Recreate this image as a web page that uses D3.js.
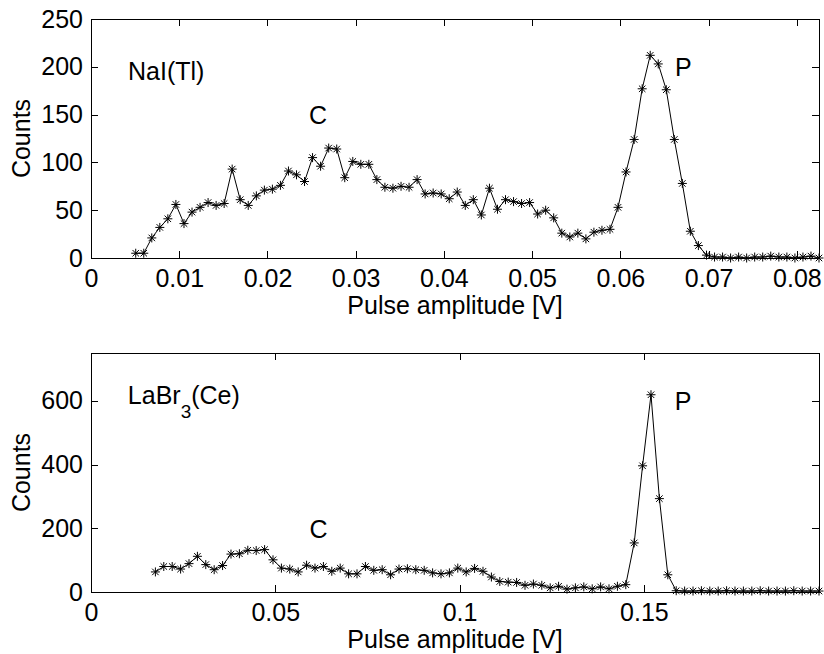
<!DOCTYPE html>
<html>
<head>
<meta charset="utf-8">
<script src="https://cdn.jsdelivr.net/npm/d3@7"></script>
<style>
body { margin: 0; background: #fff; }
svg text { font-family: "Liberation Sans", Arial, Helvetica, sans-serif; }
</style>
</head>
<body>
<div id="chart"></div>
<script>
// NaI(Tl) spectrum (top panel)
var naiAmp = [0.00507, 0.00598, 0.00689, 0.00780, 0.00871, 0.00962, 0.01054, 0.01145, 0.01236, 0.01327,
  0.01418, 0.01509, 0.01600, 0.01691, 0.01782, 0.01874, 0.01965, 0.02056, 0.02147, 0.02238,
  0.02329, 0.02420, 0.02511, 0.02602, 0.02694, 0.02785, 0.02876, 0.02967, 0.03058, 0.03149,
  0.03240, 0.03331, 0.03422, 0.03514, 0.03605, 0.03696, 0.03787, 0.03878, 0.03969, 0.04060,
  0.04151, 0.04242, 0.04333, 0.04424, 0.04516, 0.04607, 0.04698, 0.04789, 0.04880, 0.04971,
  0.05062, 0.05153, 0.05244, 0.05336, 0.05427, 0.05518, 0.05609, 0.05700, 0.05791, 0.05882,
  0.05973, 0.06064, 0.06156, 0.06247, 0.06338, 0.06429, 0.06520, 0.06611, 0.06702, 0.06793,
  0.06884, 0.06976, 0.07067, 0.07158, 0.07249, 0.07340, 0.07431, 0.07522, 0.07613, 0.07704,
  0.07796, 0.07887, 0.07978, 0.08069, 0.08160, 0.08251];
var naiCounts = [5, 5, 21, 32, 41, 56, 36, 48, 53, 58,
  55, 57, 93, 61, 55, 65, 71, 72, 76, 91,
  87, 80, 105, 96, 115, 114, 84, 101, 98, 98,
  82, 74, 73, 75, 74, 82, 67, 68, 67, 62,
  69, 55, 61, 45, 73, 51, 61, 59, 57, 58,
  46, 50, 42, 26, 22, 26, 20, 27, 29, 30,
  53, 90, 124, 177, 212, 203, 176, 124, 78, 28,
  13, 3, 1, 1, 0, 1, 0, 1, 1, 2,
  1, 1, 0, 1, 2, 0];
var naiXTicks = [0, 0.01, 0.02, 0.03, 0.04, 0.05, 0.06, 0.07, 0.08];
var naiXTickLabels = ["0", "0.01", "0.02", "0.03", "0.04", "0.05", "0.06", "0.07", "0.08"];
var naiYTicks = [0, 50, 100, 150, 200, 250];
var naiYTickLabels = ["0", "50", "100", "150", "200", "250"];

// LaBr3(Ce) spectrum (bottom panel)
var labrAmp = [0.01747, 0.01975, 0.02203, 0.02431, 0.02659, 0.02887, 0.03114, 0.03342, 0.03570, 0.03798,
  0.04026, 0.04254, 0.04482, 0.04710, 0.04938, 0.05166, 0.05393, 0.05621, 0.05849, 0.06077,
  0.06305, 0.06533, 0.06761, 0.06989, 0.07217, 0.07445, 0.07672, 0.07900, 0.08128, 0.08356,
  0.08584, 0.08812, 0.09040, 0.09268, 0.09496, 0.09724, 0.09951, 0.10179, 0.10407, 0.10635,
  0.10863, 0.11091, 0.11319, 0.11547, 0.11775, 0.12003, 0.12230, 0.12458, 0.12686, 0.12914,
  0.13142, 0.13370, 0.13598, 0.13826, 0.14054, 0.14282, 0.14509, 0.14737, 0.14965, 0.15193,
  0.15421, 0.15649, 0.15877, 0.16105, 0.16333, 0.16561, 0.16788, 0.17016, 0.17244, 0.17472,
  0.17700, 0.17928, 0.18156, 0.18384, 0.18612, 0.18840, 0.19067, 0.19295, 0.19523, 0.19751];
var labrCounts = [63, 80, 80, 72, 89, 112, 86, 70, 83, 119,
  120, 131, 130, 133, 101, 75, 72, 63, 84, 75,
  80, 65, 75, 57, 57, 80, 68, 70, 54, 72,
  73, 70, 68, 60, 57, 60, 75, 63, 74, 65,
  47, 33, 31, 30, 21, 25, 21, 13, 18, 9,
  13, 16, 10, 16, 10, 18, 23, 154, 396, 619,
  293, 54, 4, 3, 3, 4, 3, 3, 4, 3,
  3, 3, 4, 3, 3, 3, 4, 3, 3, 3];
var labrXTicks = [0, 0.05, 0.1, 0.15];
var labrXTickLabels = ["0", "0.05", "0.1", "0.15"];
var labrYTicks = [0, 200, 400, 600];
var labrYTickLabels = ["0", "200", "400", "600"];

var fontSize = 25;
var width = 824, height = 654;

var svg = d3.select("#chart")
  .append("svg")
  .attr("width", width)
  .attr("height", height)
  .style("background", "#fff");

// matlab style '*' marker
function star(r) {
  var a = r * 0.72;
  return "M" + (-r) + ",0L" + r + ",0M0," + (-r) + "L0," + r +
    "M" + (-a) + "," + (-a) + "L" + a + "," + a +
    "M" + (-a) + "," + a + "L" + a + "," + (-a);
}

function drawPanel(p) {
  var xScale = d3.scaleLinear().domain([0, p.xMax]).range([91, 819]);
  var yScale = d3.scaleLinear().domain([0, p.yMax]).range([p.bottom, p.top]);

  var g = svg.append("g");

  // bottom axis with labels, ticks pointing in
  var xAxis = d3.axisBottom(xScale)
    .tickValues(p.xTicks)
    .tickFormat((d, i) => p.xTickLabels[i])
    .tickSizeInner(-7)
    .tickSizeOuter(0)
    .tickPadding(11);
  var gx = g.append("g")
    .attr("transform", "translate(0," + p.bottom + ")")
    .call(xAxis);

  var yAxis = d3.axisLeft(yScale)
    .tickValues(p.yTicks)
    .tickFormat((d, i) => p.yTickLabels[i])
    .tickSizeInner(-7)
    .tickSizeOuter(0)
    .tickPadding(8);
  var gy = g.append("g")
    .attr("transform", "translate(91,0)")
    .call(yAxis);

  // mirrored ticks on top and right
  var gt = g.append("g")
    .attr("transform", "translate(0," + p.top + ")")
    .call(d3.axisTop(xScale).tickValues(p.xTicks).tickFormat("").tickSizeInner(-7).tickSizeOuter(0));
  var gr = g.append("g")
    .attr("transform", "translate(819,0)")
    .call(d3.axisRight(yScale).tickValues(p.yTicks).tickFormat("").tickSizeInner(-7).tickSizeOuter(0));

  [gx, gy, gt, gr].forEach(function (a) {
    a.select(".domain").remove();
    a.selectAll("line").attr("stroke", "#000").attr("shape-rendering", "crispEdges");
    a.selectAll("text")
      .attr("fill", "#000")
      .style("font-size", fontSize + "px")
      .style("font-family", '"Liberation Sans", Arial, sans-serif');
  });

  // box
  g.append("rect")
    .attr("x", 91)
    .attr("y", p.top)
    .attr("width", 819 - 91)
    .attr("height", p.bottom - p.top)
    .attr("fill", "none")
    .attr("stroke", "#000")
    .attr("stroke-width", 1)
    .attr("shape-rendering", "crispEdges");

  var pts = p.amp.map((d, i) => ({ x: d, y: p.counts[i] }));

  var line = d3.line()
    .x((d) => xScale(d.x))
    .y((d) => yScale(d.y));

  g.append("path")
    .datum(pts)
    .attr("d", line)
    .attr("fill", "none")
    .attr("stroke", "#000")
    .attr("stroke-width", 1);

  g.selectAll(".mark")
    .data(pts)
    .enter()
    .append("path")
    .attr("class", "mark")
    .attr("transform", (d) => "translate(" + xScale(d.x) + "," + yScale(d.y) + ")")
    .attr("d", star(4.5))
    .attr("fill", "none")
    .attr("stroke", "#000")
    .attr("stroke-width", 1);

  // axis titles
  g.append("text")
    .attr("x", (91 + 819) / 2)
    .attr("y", p.bottom + 56)
    .attr("text-anchor", "middle")
    .style("font-size", fontSize + "px")
    .text("Pulse amplitude [V]");

  g.append("text")
    .attr("transform", "translate(30," + ((p.top + p.bottom) / 2) + ") rotate(-90)")
    .attr("text-anchor", "middle")
    .style("font-size", fontSize + "px")
    .text("Counts");

  // annotations
  p.notes.forEach(function (n) {
    var t = g.append("text")
      .attr("x", xScale(n.x))
      .attr("y", yScale(n.y))
      .style("font-size", fontSize + "px");
    if (n.sub) {
      t.append("tspan").text(n.text);
      t.append("tspan").attr("dy", 14).style("font-size", "19px").text(n.sub);
      t.append("tspan").attr("dy", -14).text(n.rest);
    } else {
      t.text(n.text);
    }
  });
}

drawPanel({
  amp: naiAmp, counts: naiCounts,
  xMax: 0.08251, yMax: 250, top: 19, bottom: 258,
  xTicks: naiXTicks, xTickLabels: naiXTickLabels,
  yTicks: naiYTicks, yTickLabels: naiYTickLabels,
  notes: [
    { x: 0.0042, y: 186, text: "NaI(Tl)" },
    { x: 0.0247, y: 140, text: "C" },
    { x: 0.0662, y: 190, text: "P" }
  ]
});

drawPanel({
  amp: labrAmp, counts: labrCounts,
  xMax: 0.19751, yMax: 750, top: 353, bottom: 592,
  xTicks: labrXTicks, xTickLabels: labrXTickLabels,
  yTicks: labrYTicks, yTickLabels: labrYTickLabels,
  notes: [
    { x: 0.0100, y: 590, text: "LaBr", sub: "3", rest: "(Ce)" },
    { x: 0.0593, y: 170, text: "C" },
    { x: 0.1584, y: 572, text: "P" }
  ]
});
</script>
</body>
</html>
